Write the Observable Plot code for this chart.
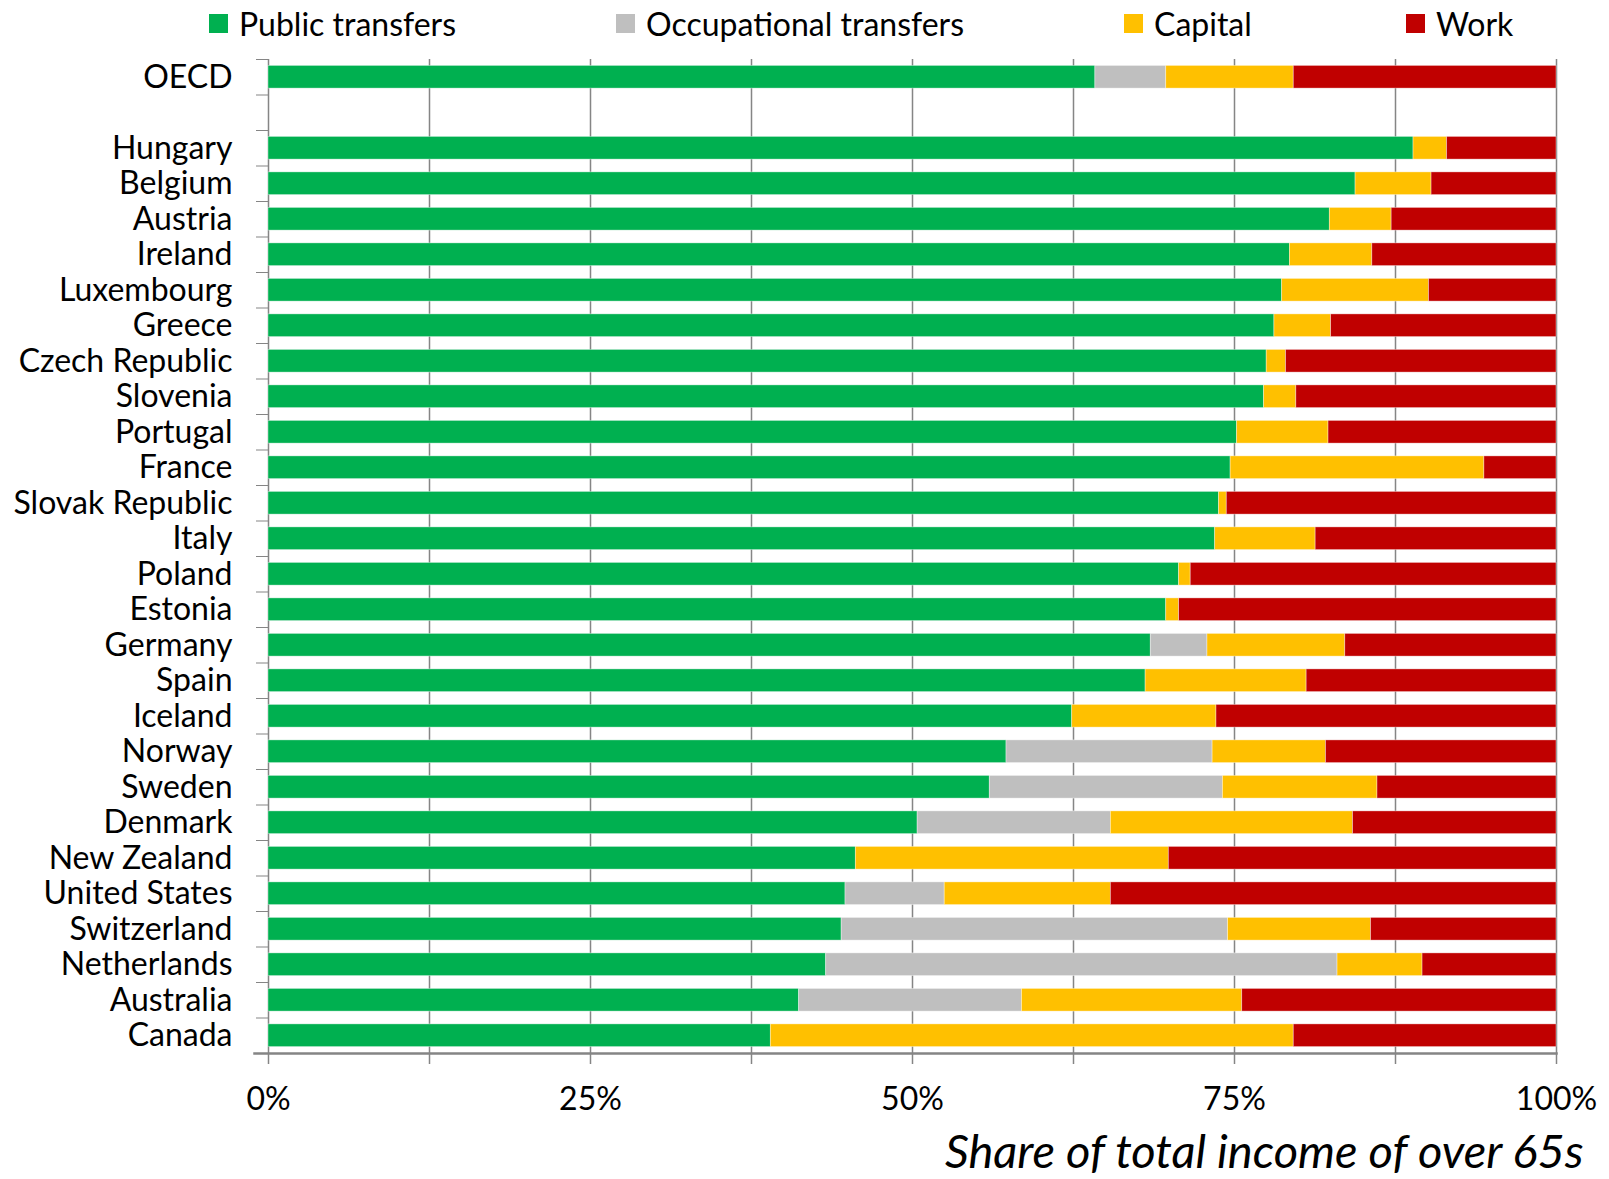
<!DOCTYPE html>
<html><head><meta charset="utf-8">
<script src="https://cdn.jsdelivr.net/npm/d3@7"></script>
<script src="https://cdn.jsdelivr.net/npm/@observablehq/plot@0.6"></script>
<style>
body{margin:0;background:#fff;font-family:Lato, sans-serif;}
#legend{position:relative;height:47px;width:1609px;}
.item{position:absolute;top:0;height:47px;display:flex;align-items:center;font-size:32px;color:#000;white-space:nowrap;}
.sw{width:19px;height:19px;margin-right:11px;}
#chart{line-height:0;}
</style></head><body>
<div id="legend"></div>
<div id="chart"></div>
<script>
const countries = ["OECD","Hungary","Belgium","Austria","Ireland","Luxembourg","Greece","Czech Republic","Slovenia","Portugal","France","Slovak Republic","Italy","Poland","Estonia","Germany","Spain","Iceland","Norway","Sweden","Denmark","New Zealand","United States","Switzerland","Netherlands","Australia","Canada"];
const publicTransfers = [64.2,88.9,84.4,82.4,79.3,78.7,78.1,77.5,77.3,75.2,74.7,73.8,73.5,70.7,69.7,68.5,68.1,62.4,57.3,56.0,50.4,45.6,44.8,44.5,43.3,41.2,39.0];
const occupationalTransfers = [5.5,0,0,0,0,0,0,0,0,0,0,0,0,0,0,4.4,0,0,16.0,18.1,15.0,0,7.7,30.0,39.7,17.3,0];
const capital = [9.9,2.6,5.9,4.8,6.4,11.4,4.4,1.5,2.5,7.1,19.7,0.6,7.8,0.9,1.0,10.7,12.5,11.2,8.8,12.0,18.8,24.3,12.9,11.1,6.6,17.1,40.6];
const work = [20.4,8.5,9.7,12.8,14.3,9.9,17.5,21.0,20.2,17.7,5.6,25.6,18.7,28.4,29.3,16.4,19.4,26.4,17.9,13.9,15.8,30.1,34.6,14.4,10.4,24.4,20.4];
const seriesNames = ["Public transfers","Occupational transfers","Capital","Work"];
const seriesColors = ["#00B050","#BFBFBF","#FFC000","#C00000"];
const gridTicks = [0,12.5,25,37.5,50,62.5,75,87.5,100];
const labelTicks = [0,25,50,75,100];
const yDomain = ["OECD"," "].concat(countries.slice(1));
const axisTitle = "Share of total income of over 65s";
const legendLefts = [209,616,1124,1406];

// legend
const leg = document.getElementById("legend");
seriesNames.forEach((s,i)=>{
  const it = document.createElement("div");
  it.className = "item"; it.style.left = legendLefts[i] + "px";
  const sw = document.createElement("div"); sw.className = "sw"; sw.style.background = seriesColors[i];
  const tx = document.createElement("span"); tx.textContent = s;
  it.appendChild(sw); it.appendChild(tx); leg.appendChild(it);
});

const seriesArrays = [publicTransfers, occupationalTransfers, capital, work];
const rows = [];
countries.forEach((c,i)=>{
  seriesArrays.forEach((arr,j)=>rows.push({country:c, series:seriesNames[j], value:arr[i]}));
});

const chart = Plot.plot({
  width:1609, height:1132,
  marginLeft:268, marginRight:53, marginTop:12, marginBottom:126,
  style:{fontFamily:"Lato, sans-serif", background:"#fff", color:"#000"},
  x:{domain:[0,100]},
  y:{domain:yDomain, paddingInner:0.36, paddingOuter:0.18, round:false},
  color:{domain:seriesNames, range:seriesColors},
  marks:[
    Plot.ruleX(gridTicks,{stroke:"#858585", strokeWidth:1.5}),
    Plot.barX(rows, Plot.stackX({y:"country", x:"value", fill:"series", order:seriesNames, stroke:"#fff", strokeOpacity:0.5, strokeWidth:0.75})),
    Plot.frame({anchor:"bottom", stroke:"#858585", strokeWidth:2.5, insetLeft:-14}),
    Plot.axisX(gridTicks,{tickSize:11, text:null, stroke:"#858585", strokeWidth:1.5, label:null}),
    Plot.axisX(labelTicks,{tickSize:0, tickPadding:34, tickFormat:d=>d+"%", fontSize:32, label:null}),
    Plot.axisY({tickSize:0, tickPadding:36, fontSize:32, label:null}),
    Plot.axisY(yDomain,{tickSize:12, text:null, dy:-17.75, stroke:"#858585", label:null}),
    Plot.text([axisTitle],{text:d=>d, frameAnchor:"bottom-right", textAnchor:"end", lineAnchor:"bottom", dx:27, dy:114, fontSize:47, fontStyle:"italic"})
  ]
});
document.getElementById("chart").appendChild(chart);
</script>
</body></html>
